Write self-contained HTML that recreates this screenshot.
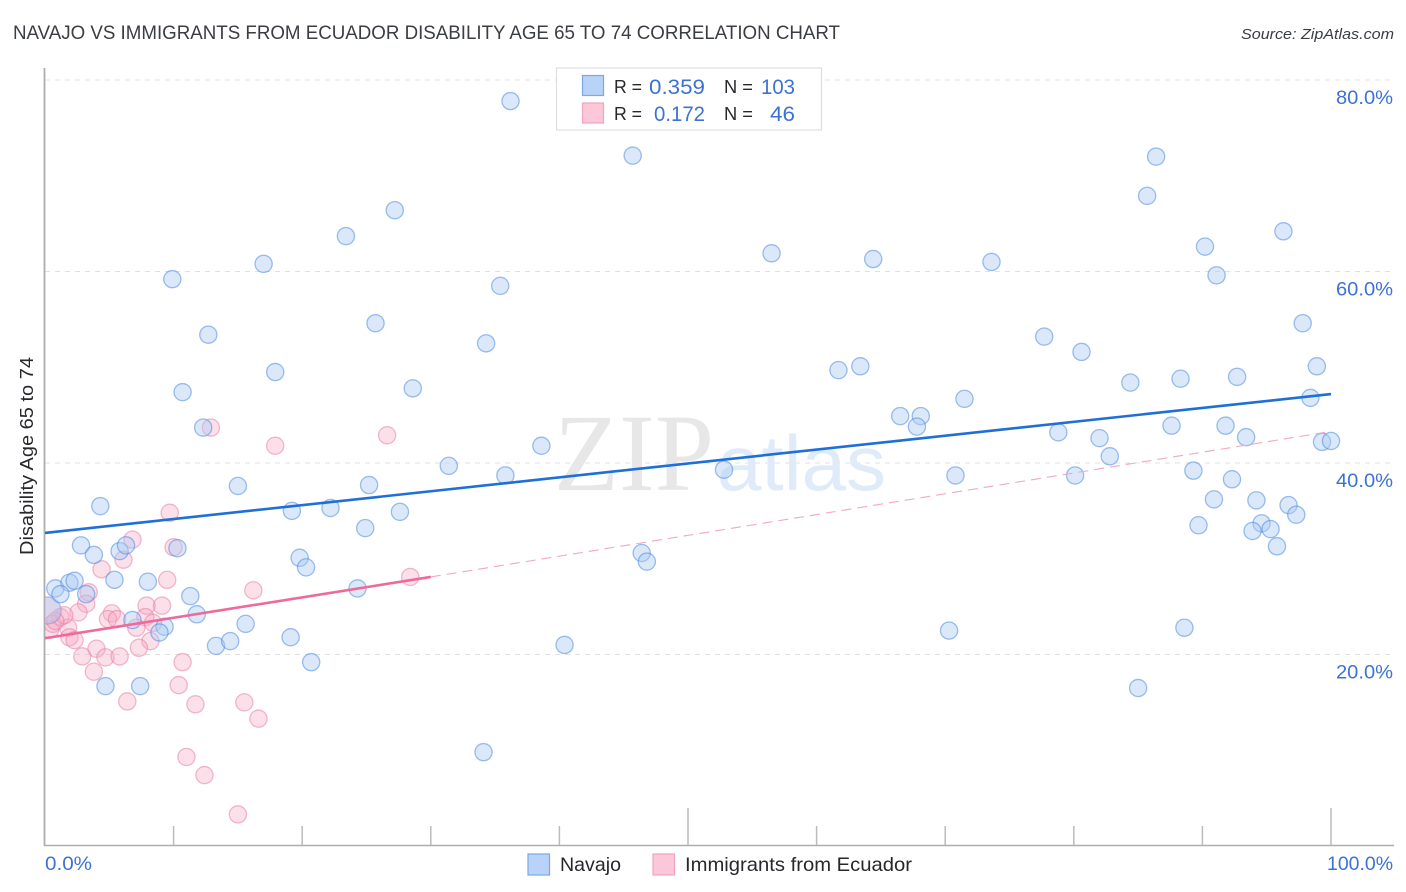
<!DOCTYPE html>
<html lang="en">
<head>
<meta charset="utf-8">
<title>Navajo vs Immigrants from Ecuador Disability Age 65 to 74 Correlation Chart</title>
<style>
html,body{margin:0;padding:0;background:#fff;width:1406px;height:892px;overflow:hidden}
svg{display:block;font-family:"Liberation Sans",sans-serif}
</style>
</head>
<body>
<svg id="chart" width="1406" height="892" viewBox="0 0 1406 892" xmlns="http://www.w3.org/2000/svg">
  <defs><clipPath id="plot-clip"><rect x="45" y="60" width="1350" height="785"/></clipPath></defs>
  <text x="13" y="39" font-size="19" fill="#3a3d42" textLength="827" lengthAdjust="spacingAndGlyphs">NAVAJO VS IMMIGRANTS FROM ECUADOR DISABILITY AGE 65 TO 74 CORRELATION CHART</text>
  <text x="1241" y="39" font-size="15" font-style="italic" fill="#3a3d42" textLength="153" lengthAdjust="spacingAndGlyphs">Source: ZipAtlas.com</text>
  <text transform="translate(33,555) rotate(-90)" font-size="18" fill="#26282c" textLength="198" lengthAdjust="spacingAndGlyphs">Disability Age 65 to 74</text>
  <g id="grid"></g>
  <g>
    <text x="554" y="490" font-size="110" fill="#e7e7e7" font-family="'Liberation Serif',serif" textLength="160" lengthAdjust="spacingAndGlyphs">ZIP</text>
    <text x="717" y="490" font-size="78" fill="#e0ebfa" textLength="169" lengthAdjust="spacingAndGlyphs">atlas</text>
  </g>
  <g id="axes"></g>
  <g id="points" clip-path="url(#plot-clip)"></g>
  <g id="trends"></g>
  <g id="y-labels"></g>
  <text x="45" y="870" font-size="19.5" fill="#3d72d4" textLength="47" lengthAdjust="spacingAndGlyphs">0.0%</text>
  <text x="1327" y="870" font-size="19.5" fill="#3d72d4" textLength="66" lengthAdjust="spacingAndGlyphs">100.0%</text>

  <g>
    <rect x="556.5" y="68" width="265" height="62" fill="#fff" stroke="#dedede" stroke-width="1.2"/>
    <rect x="582.5" y="75.5" width="21" height="20" fill="#b8d3f7" stroke="#7aaae6" stroke-width="1.2"/>
    <rect x="582.5" y="103" width="21" height="20" fill="#fcc7d8" stroke="#f0a5bd" stroke-width="1.2"/>
    <text x="614" y="93" font-size="18.5" fill="#26282c" textLength="28" lengthAdjust="spacingAndGlyphs">R =</text>
    <text x="649" y="94" font-size="21" fill="#3d72d4" textLength="56" lengthAdjust="spacingAndGlyphs">0.359</text>
    <text x="724" y="93" font-size="18.5" fill="#26282c" textLength="29" lengthAdjust="spacingAndGlyphs">N =</text>
    <text x="761" y="94" font-size="21" fill="#3d72d4" textLength="34" lengthAdjust="spacingAndGlyphs">103</text>
    <text x="614" y="120" font-size="18.5" fill="#26282c" textLength="28" lengthAdjust="spacingAndGlyphs">R =</text>
    <text x="654" y="121" font-size="21" fill="#3d72d4" textLength="51" lengthAdjust="spacingAndGlyphs">0.172</text>
    <text x="724" y="120" font-size="18.5" fill="#26282c" textLength="29" lengthAdjust="spacingAndGlyphs">N =</text>
    <text x="770" y="121" font-size="21" fill="#3d72d4" textLength="25" lengthAdjust="spacingAndGlyphs">46</text>
  </g>

  <g>
    <g>
      <rect x="528" y="854" width="21.5" height="21" fill="#b8d3f7" stroke="#7aaae6" stroke-width="1.2"/>
      <text x="560" y="871" font-size="19.5" fill="#26282c" textLength="61" lengthAdjust="spacingAndGlyphs">Navajo</text>
    </g>
    <g>
      <rect x="653" y="854" width="21.5" height="21" fill="#fcc7d8" stroke="#f0a5bd" stroke-width="1.2"/>
      <text x="685" y="871" font-size="19.5" fill="#26282c" textLength="227" lengthAdjust="spacingAndGlyphs">Immigrants from Ecuador</text>
    </g>
  </g>
</svg>
<script>
const yTicks = [20, 40, 60, 80];
const yTickLabels = ["20.0%", "40.0%", "60.0%", "80.0%"];
const xTicks = [10, 20, 30, 40, 50, 60, 70, 80, 90, 100];
const xMajorTicks = [50, 100];

const navajoX = [36.2,45.7,86.4,85.7,27.2,23.4,96.3,90.2,56.5,64.4,73.6,17.0,91.1,9.9,35.4,25.7,97.8,12.7,34.3,77.7,80.6,98.9,63.4,61.7,17.9,84.4,88.3,92.7,10.7,28.6,71.5,98.4,66.5,68.1,67.8,12.3,78.8,87.6,91.8,93.4,82.0,99.3,100,38.6,82.8,31.4,52.8,35.8,70.8,80.1,89.3,92.3,15.0,25.2,4.3,19.2,22.2,27.6,90.9,94.2,96.7,97.3,24.9,89.7,94.6,93.9,95.3,95.8,2.8,3.8,5.8,6.3,10.3,46.4,19.8,46.8,20.3,0.8,1.9,2.3,5.4,8.0,24.3,11.3,3.2,1.2,11.8,6.8,9.3,8.9,15.6,19.1,70.3,88.6,13.3,14.4,40.4,20.7,4.7,7.4,85.0,34.1];
const navajoY = [77.8,72.1,72.0,67.9,66.4,63.7,64.2,62.6,61.9,61.3,61.0,60.8,59.6,59.2,58.5,54.6,54.6,53.4,52.5,53.2,51.6,50.1,50.1,49.7,49.5,48.4,48.8,49.0,47.4,47.8,46.7,46.8,44.9,44.9,43.8,43.7,43.2,43.9,43.9,42.7,42.6,42.2,42.3,41.8,40.7,39.7,39.3,38.7,38.7,38.7,39.2,38.3,37.6,37.7,35.5,35.0,35.3,34.9,36.2,36.1,35.6,34.6,33.2,33.5,33.7,32.9,33.1,31.3,31.4,30.4,30.8,31.4,31.1,30.6,30.1,29.7,29.1,26.9,27.5,27.7,27.8,27.6,26.9,26.1,26.3,26.3,24.2,23.6,22.9,22.3,23.2,21.8,22.5,22.8,20.9,21.4,21.0,19.2,16.7,16.7,16.5,9.8];
const ecuadorX = [6.8,6.1,4.4,10.0,9.5,16.2,3.4,3.2,2.6,7.9,9.1,5.2,4.9,5.6,7.8,8.4,7.1,8.2,7.3,1.8,1.9,2.3,4.0,4.7,2.9,5.8,3.8,10.7,10.4,11.7,6.4,15.5,16.6,11.0,12.4,15.0,12.9,17.9,26.6,9.7,28.4,0.4,0.6,1.2,1.5,0.8];
const ecuadorY = [32.0,29.9,28.9,31.2,27.8,26.7,26.5,25.3,24.4,25.1,25.1,24.3,23.7,23.7,23.9,23.3,22.8,21.4,20.7,22.8,21.8,21.5,20.6,19.7,19.8,19.8,18.2,19.2,16.8,14.8,15.1,15.0,13.3,9.3,7.4,3.3,43.7,41.8,42.9,34.8,28.1,22.6,23.2,23.9,24.1,23.5];
const clusterX = [0.2];
const clusterY = [24.6];

const navajoTrendX = [0, 100];
const navajoTrendY = [32.7, 47.2];
const ecuadorSolidX = [0, 30];
const ecuadorSolidY = [21.7, 28.1];
const ecuadorDashX = [30, 100];
const ecuadorDashY = [28.1, 43.3];

const SVGNS = "http://www.w3.org/2000/svg";
function xScale(v) { return 45 + v * 12.86; }
function yScale(v) { return 846 - v * 9.575; }
function make(tag, parent, attrs) {
  const el = document.createElementNS(SVGNS, tag);
  for (const k in attrs) el.setAttribute(k, attrs[k]);
  document.getElementById(parent).appendChild(el);
  return el;
}

yTicks.forEach(function (t, i) {
  const line = make("line", "grid", { x1: 45, x2: 1394, y1: yScale(t), y2: yScale(t), stroke: "#e0e0e0", "stroke-width": 1, "stroke-dasharray": "5 5" });
  
  
  const label = make("text", "y-labels", { x: 1336, y: yScale(t) + 24, "font-size": 19.5, fill: "#3d72d4", textLength: 57, lengthAdjust: "spacingAndGlyphs" });
  label.textContent = yTickLabels[i];
  
  
});

const yAxis = make("line", "axes", { x1: 44.5, x2: 44.5, y1: 68, y2: 846, stroke: "#aeaeae", "stroke-width": 1.8 });


const xAxis = make("line", "axes", { x1: 44, x2: 1394, y1: 845.5, y2: 845.5, stroke: "#aeaeae", "stroke-width": 1.6 });


xTicks.forEach(function (t) {
  const top = xMajorTicks.indexOf(t) >= 0 ? 808 : 826;
  const tick = make("line", "axes", { x1: xScale(t), x2: xScale(t), y1: top, y2: 845, stroke: "#bcbcbc", "stroke-width": 1.5 });
  
  
});

function drawPoint(x, y, r, fill, stroke) {
  return make("circle", "points", { cx: xScale(x), cy: yScale(y), r: r, fill: fill, "stroke": stroke, "stroke-width": 1.3 });
}
ecuadorX.forEach(function (x, i) {
  const c = drawPoint(x, ecuadorY[i], 8.6, "rgba(248,170,195,0.36)", "rgba(232,120,158,0.5)");
  
  
});
clusterX.forEach(function (x, i) {
  const p = drawPoint(x, clusterY[i], 13.5, "rgba(248,170,195,0.36)", "rgba(232,120,158,0.3)");
  
  
  const b = drawPoint(x, clusterY[i], 13.5, "rgba(170,203,243,0.42)", "rgba(90,145,225,0.3)");
  
  
});
navajoX.forEach(function (x, i) {
  const c = drawPoint(x, navajoY[i], 8.6, "rgba(170,203,243,0.44)", "rgba(70,135,222,0.52)");
  
  
});

const navajoLine = make("line", "trends", { x1: xScale(navajoTrendX[0]), x2: xScale(navajoTrendX[1]), y1: yScale(navajoTrendY[0]), y2: yScale(navajoTrendY[1]), stroke: "#1f6fd8", "stroke-width": 2.6 });


const ecuadorLine = make("line", "trends", { x1: xScale(ecuadorSolidX[0]), x2: xScale(ecuadorSolidX[1]), y1: yScale(ecuadorSolidY[0]), y2: yScale(ecuadorSolidY[1]), stroke: "#ee6a9b", "stroke-width": 2.6 });


const ecuadorDash = make("line", "trends", { x1: xScale(ecuadorDashX[0]), x2: xScale(ecuadorDashX[1]), y1: yScale(ecuadorDashY[0]), y2: yScale(ecuadorDashY[1]), stroke: "#eeaac0", "stroke-width": 1.1, "stroke-dasharray": "10 6" });


</script>
</body>
</html>
